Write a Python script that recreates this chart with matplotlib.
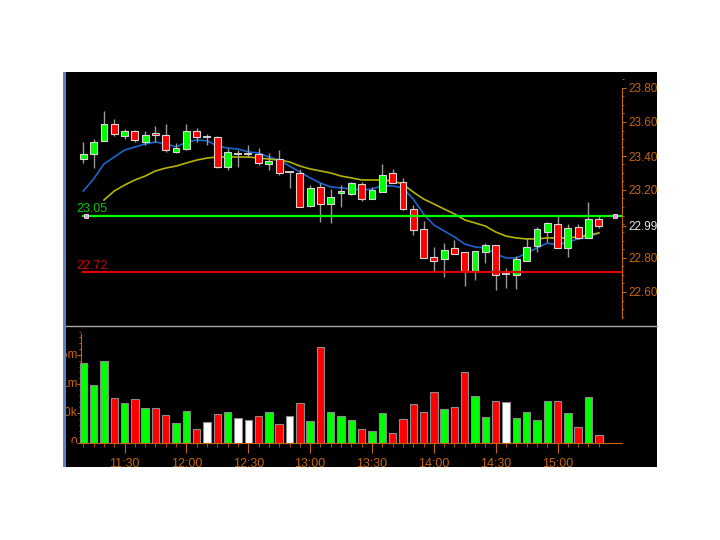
import numpy as np
import pandas as pd
import matplotlib
matplotlib.use('Agg')
import matplotlib.pyplot as plt
from matplotlib.patches import Rectangle
from matplotlib.lines import Line2D
from matplotlib.ticker import FixedLocator, MultipleLocator

plt.rcParams['font.family'] = ['Liberation Sans', 'DejaVu Sans']

# ---------------- data ----------------
bar_times = list(pd.date_range('2000-01-01 11:10', periods=51, freq='5min').strftime('%H:%M'))

opens = [23.38, 23.41, 23.49, 23.59, 23.52, 23.547, 23.481, 23.533, 23.524, 23.422,
         23.443, 23.547, 23.514, 23.514, 23.334, 23.412, 23.412, 23.412, 23.351, 23.38,
         23.308, 23.302, 23.106, 23.216, 23.118, 23.184, 23.176, 23.233, 23.145, 23.186,
         23.302, 23.249, 23.086, 22.969, 22.804, 22.792, 22.857, 22.833, 22.724, 22.833,
         22.876, 22.704, 22.70, 22.784, 22.872, 22.955, 22.998, 22.857, 22.984, 22.916,
         23.027]
highs = [23.48, 23.50, 23.665, 23.62, 23.56, 23.551, 23.547, 23.578, 23.586, 23.475,
         23.586, 23.563, 23.528, 23.518, 23.445, 23.435, 23.465, 23.45, 23.416, 23.435,
         23.308, 23.322, 23.229, 23.239, 23.204, 23.229, 23.245, 23.249, 23.216, 23.353,
         23.322, 23.269, 23.112, 23.018, 22.867, 22.886, 22.906, 22.833, 22.843, 22.886,
         22.876, 22.743, 22.814, 22.916, 22.984, 23.014, 23.049, 22.998, 22.998, 23.131,
         23.049]
lows = [23.36, 23.33, 23.49, 23.52, 23.50, 23.484, 23.465, 23.484, 23.425, 23.416,
        23.435, 23.484, 23.465, 23.328, 23.318, 23.337, 23.392, 23.347, 23.318, 23.288,
        23.21, 23.098, 23.098, 23.014, 23.004, 23.102, 23.17, 23.137, 23.145, 23.186,
        23.239, 23.082, 22.935, 22.802, 22.72, 22.69, 22.824, 22.635, 22.67, 22.769,
        22.612, 22.622, 22.618, 22.784, 22.833, 22.896, 22.857, 22.808, 22.91, 22.916,
        22.975]
closes = [23.41, 23.48, 23.59, 23.53, 23.545, 23.492, 23.522, 23.522, 23.434, 23.449,
          23.547, 23.512, 23.514, 23.334, 23.422, 23.412, 23.412, 23.357, 23.372, 23.302,
          23.308, 23.098, 23.21, 23.118, 23.16, 23.196, 23.239, 23.145, 23.20, 23.288,
          23.239, 23.086, 22.965, 22.802, 22.784, 22.847, 22.824, 22.724, 22.843, 22.876,
          22.70, 22.704, 22.794, 22.867, 22.969, 23.008, 22.857, 22.975, 22.916, 23.027,
          22.99]
volumes = [1360000, 990000, 1390000, 770000, 675000, 740000, 590000, 590000, 474000, 332000,
           543000, 235000, 349000, 486000, 514000, 428000, 389000, 462000, 526000, 320000,
           462000, 675000, 372000, 1634000, 526000, 452000, 389000, 223000, 195000, 503000,
           161000, 400000, 651000, 526000, 873000, 577000, 600000, 1205000, 788000, 435000,
           709000, 685000, 411000, 514000, 384000, 719000, 709000, 503000, 257000, 771000,
           127000]
ma_fast = [23.194, 23.265, 23.353, 23.394, 23.435, 23.453, 23.471, 23.482, 23.471, 23.453,
           23.482, 23.494, 23.49, 23.459, 23.447, 23.441, 23.424, 23.418, 23.394, 23.376,
           23.341, 23.306, 23.271, 23.241, 23.218, 23.212, 23.206, 23.20, 23.206, 23.224,
           23.224, 23.212, 23.147, 23.059, 22.994, 22.959, 22.924, 22.882, 22.865, 22.859,
           22.824, 22.80, 22.80, 22.829, 22.859, 22.888, 22.876, 22.894, 22.912, 22.924,
           22.947]
ma_slow = [np.nan, np.nan, 23.141, 23.194, 23.229, 23.259, 23.282, 23.312, 23.329, 23.341,
           23.359, 23.376, 23.388, 23.394, 23.394, 23.394, 23.394, 23.388, 23.382, 23.376,
           23.365, 23.341, 23.324, 23.312, 23.30, 23.282, 23.271, 23.259, 23.259, 23.259,
           23.253, 23.235, 23.188, 23.147, 23.118, 23.088, 23.059, 23.024, 23.006, 22.988,
           22.953, 22.929, 22.918, 22.912, 22.912, 22.918, 22.918, 22.918, 22.924, 22.935,
           22.947]

time_tick_labels = ['11:30', '12:00', '12:30', '13:00', '13:30', '14:00', '14:30', '15:00']
price_tick_values = [22.60, 22.80, 23.20, 23.40, 23.60, 23.80]
vol_tick_values = [0, 500000, 1000000, 1500000]
vol_tick_labels = ['0', '500k', '1m', '1.5m']
resistance_level = 23.05
support_level = 22.72

# ---------------- styling ----------------
ORANGE = '#c8640a'
W, H = 720, 540
PX_PER_BAR = 10.31
X0_PX = 83.3           # pixel of first bar centre
AX_L_PX, AX_R_PX = 66, 622


def fx(px):
    return px / W


def fy(py):
    return 1 - py / H


def dx(px):
    return (px - X0_PX) / PX_PER_BAR


fig = plt.figure(figsize=(7.2, 5.4), dpi=100, facecolor='white')

# black panel + left border + separator
fig.patches.append(Rectangle((fx(63), fy(467)), fx(657) - fx(63), fy(72) - fy(467),
                             transform=fig.transFigure, facecolor='black',
                             edgecolor='none', zorder=-10))
fig.patches.append(Rectangle((fx(63), fy(467)), 2.5 / W, 395 / H,
                             transform=fig.transFigure, facecolor='#5a82c8',
                             edgecolor='none', zorder=-9))
fig.add_artist(Line2D([fx(66), fx(657)], [fy(325.5)] * 2, transform=fig.transFigure,
                      color='#a8a8a8', lw=1.0, zorder=5))

n = len(closes)
x = np.arange(n)
o = np.array(opens)
h = np.array(highs)
l = np.array(lows)
c = np.array(closes)
up = c > o
down = c < o
flat = ~(up | down)
colors = np.where(up, '#00ff00', np.where(down, '#ff0000', '#ffffff'))

xlim = (dx(AX_L_PX), dx(AX_R_PX))

# ---------------- price panel ----------------
p_top_px, p_bot_px = 72, 325
ax = fig.add_axes([fx(AX_L_PX), fy(p_bot_px), (AX_R_PX - AX_L_PX) / W, (p_bot_px - p_top_px) / H])
ax.set_facecolor('none')
ax.set_xlim(*xlim)
ax.set_ylim(23.80 - (p_bot_px - 88) / 170, 23.80 - (p_top_px - 88) / 170)

ax.plot(x, ma_fast, color='#1a66cc', lw=1.2, zorder=2)
ax.plot(x, ma_slow, color='#b4b400', lw=1.2, zorder=2)

ax.vlines(x, l, h, color='#9a9a9a', lw=1.0, zorder=3)
ax.bar(x[~flat], np.abs(c - o)[~flat], bottom=np.minimum(o, c)[~flat], width=0.66,
       color=colors[~flat], edgecolor='#d8d8d8', linewidth=0.8, zorder=4)
ax.hlines(o[flat], x[flat] - 0.4, x[flat] + 0.4, color='#e0e0e0', lw=1.3, zorder=4)

ax.hlines(resistance_level, dx(82), xlim[1], color='#00ff00', lw=1.6, zorder=5)
ax.hlines(support_level, dx(82), xlim[1], color='#e00000', lw=1.6, zorder=5)
ax.text(dx(76), resistance_level, f'{resistance_level:.2f}', color='#00c800',
        fontsize=9, ha='left', va='bottom', zorder=6)
ax.text(dx(76), support_level, f'{support_level:.2f}', color='#d00000',
        fontsize=9, ha='left', va='bottom', zorder=6)
ax.plot([dx(86), dx(615)], [resistance_level] * 2, ls='none', marker='s', ms=3,
        mfc='#ff80ff', mec='#ffffff', mew=0.5, zorder=7)

for s in ['top', 'left', 'bottom']:
    ax.spines[s].set_visible(False)
ax.spines['right'].set_color(ORANGE)
ax.spines['right'].set_bounds(22.45, 23.80)
ax.yaxis.tick_right()
ticks = price_tick_values + [c[-1]]
ax.yaxis.set_major_locator(FixedLocator(ticks))
ax.set_yticklabels([f'{t:.2f}' for t in ticks])
ax.yaxis.set_minor_locator(MultipleLocator(0.05))
ax.tick_params(axis='y', which='major', colors=ORANGE, labelsize=8.5, length=3, pad=1.5)
ax.tick_params(axis='y', which='minor', colors=ORANGE, length=1.5)
ax.get_yticklabels()[-1].set_color('#e6e6e6')
ax.set_xticks([])

# ---------------- volume panel ----------------
v_top_px, v_bot_px = 327, 442.5
ax2 = fig.add_axes([fx(AX_L_PX), fy(v_bot_px), (AX_R_PX - AX_L_PX) / W, (v_bot_px - v_top_px) / H])
ax2.set_facecolor('none')
ax2.set_xlim(*xlim)
ax2.set_ylim(0, (v_bot_px - v_top_px) / 29.2 * 500000)
ax2.bar(x, volumes, width=0.72, color=colors, edgecolor='#8c8c8c', linewidth=0.8, zorder=3)

for s in ['top', 'right']:
    ax2.spines[s].set_visible(False)
ax2.spines['left'].set_position(('data', dx(81)))
ax2.spines['left'].set_color(ORANGE)
ax2.spines['left'].set_bounds(0, 1.85e6)
ax2.spines['bottom'].set_color(ORANGE)
ax2.spines['bottom'].set_bounds(dx(81), xlim[1])
ax2.yaxis.set_major_locator(FixedLocator(vol_tick_values))
ax2.yaxis.set_minor_locator(MultipleLocator(100000))
ax2.set_yticklabels([])
ax2.tick_params(axis='y', which='major', colors=ORANGE, length=3)
ax2.tick_params(axis='y', which='minor', colors=ORANGE, length=1.5)
for v, lab in zip(vol_tick_values, vol_tick_labels):
    ax2.text(dx(77.5), v, lab, color=ORANGE, fontsize=8.5, ha='right', va='center', clip_on=True)

major_idx = [bar_times.index(t) for t in time_tick_labels]
ax2.xaxis.set_major_locator(FixedLocator(major_idx))
ax2.set_xticklabels(time_tick_labels)
ax2.xaxis.set_minor_locator(FixedLocator(list(x)))
ax2.tick_params(axis='x', which='major', colors=ORANGE, labelsize=9, length=7, pad=4)
ax2.tick_params(axis='x', which='minor', colors=ORANGE, length=3)

fig.savefig('out.png', dpi=100, facecolor='white')
